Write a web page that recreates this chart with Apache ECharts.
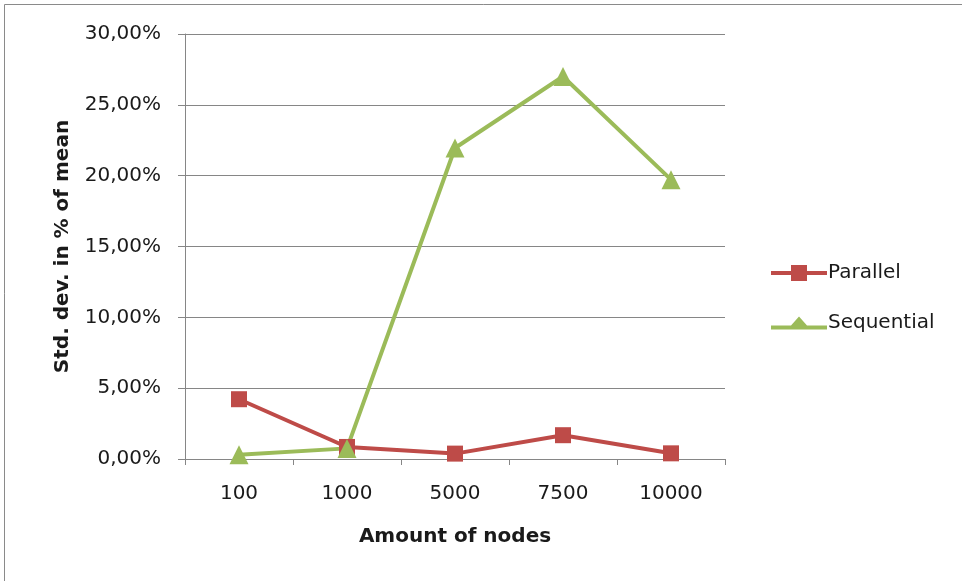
<!DOCTYPE html>
<html>
<head>
<meta charset="utf-8">
<script src="https://cdn.jsdelivr.net/npm/echarts@6/dist/echarts.min.js"></script>
<style>
  html, body { margin: 0; padding: 0; background: #fff; }
  #chart { width: 962px; height: 581px; }
</style>
</head>
<body>
<div id="chart"></div>
<script>
// Node counts along the x axis
const categories = ['100', '1000', '5000', '7500', '10000'];
// Standard deviation as percent of mean
const parallel = [4.22, 0.85, 0.38, 1.68, 0.40];
const sequential = [0.30, 0.75, 21.95, 27.0, 19.72];
// Y axis range in percent
const yTicks = [0, 5, 10, 15, 20, 25, 30];

const FONT = '"DejaVu Sans", sans-serif';
const RED = '#BE4B48';
const GREEN = '#9BBB59';

const chart = echarts.init(document.getElementById('chart'));
chart.setOption({
  animation: false,
  backgroundColor: '#fff',
  graphic: [{
    type: 'rect',
    shape: { x: 4.5, y: 4.5, width: 1200, height: 1200 },
    style: { fill: 'none', stroke: '#8a8a8a', lineWidth: 1 },
    silent: true
  }],
  grid: { left: 185, right: 237, top: 34, bottom: 122, containLabel: false },
  legend: {
    orient: 'vertical',
    left: 766,
    top: 258,
    itemGap: 30,
    itemWidth: 56,
    itemHeight: 16,
    textStyle: { fontFamily: FONT, fontSize: 20, color: '#1a1a1a', padding: [0, 0, 0, -4] },
    data: [
      { name: 'Parallel', icon: 'path://M0,6 L20,6 L20,0 L36,0 L36,6 L56,6 L56,10 L36,10 L36,16 L20,16 L20,10 L0,10 Z' },
      { name: 'Sequential', icon: 'path://M0,10 L20,10 L28,1 L36,10 L56,10 L56,14 L0,14 Z' }
    ]
  },
  xAxis: {
    type: 'category',
    data: categories,
    boundaryGap: true,
    name: 'Amount of nodes',
    nameLocation: 'middle',
    nameGap: 68,
    nameTextStyle: { fontFamily: FONT, fontSize: 20, fontWeight: 'bold', color: '#1a1a1a' },
    axisLine: { lineStyle: { color: '#868686', width: 1 } },
    axisTick: { show: true, length: 6, lineStyle: { color: '#868686' } },
    axisLabel: { fontFamily: FONT, fontSize: 20, color: '#1a1a1a', margin: 25 },
    splitLine: { show: false }
  },
  yAxis: {
    type: 'value',
    min: yTicks[0],
    max: yTicks[yTicks.length - 1],
    interval: yTicks[1] - yTicks[0],
    name: 'Std. dev. in % of mean',
    nameLocation: 'middle',
    nameGap: 112,
    nameRotate: 90,
    nameTextStyle: { fontFamily: FONT, fontSize: 20, fontWeight: 'bold', color: '#1a1a1a' },
    axisLine: { show: true, lineStyle: { color: '#868686', width: 1 } },
    axisTick: { show: true, length: 7, lineStyle: { color: '#868686' } },
    axisLabel: {
      fontFamily: FONT, fontSize: 20, color: '#1a1a1a', margin: 24,
      padding: [4, 0, 0, 0],
      formatter: v => v.toFixed(2).replace('.', ',') + '%'
    },
    splitLine: { show: true, lineStyle: { color: '#868686', width: 1 } }
  },
  series: [
    {
      name: 'Parallel',
      type: 'line',
      data: parallel,
      symbol: 'rect',
      symbolSize: 16,
      itemStyle: { color: RED },
      lineStyle: { color: RED, width: 4 }
    },
    {
      name: 'Sequential',
      type: 'line',
      data: sequential,
      symbol: 'triangle',
      symbolSize: 19,
      itemStyle: { color: GREEN },
      lineStyle: { color: GREEN, width: 4 }
    }
  ]
});
</script>
</body>
</html>
